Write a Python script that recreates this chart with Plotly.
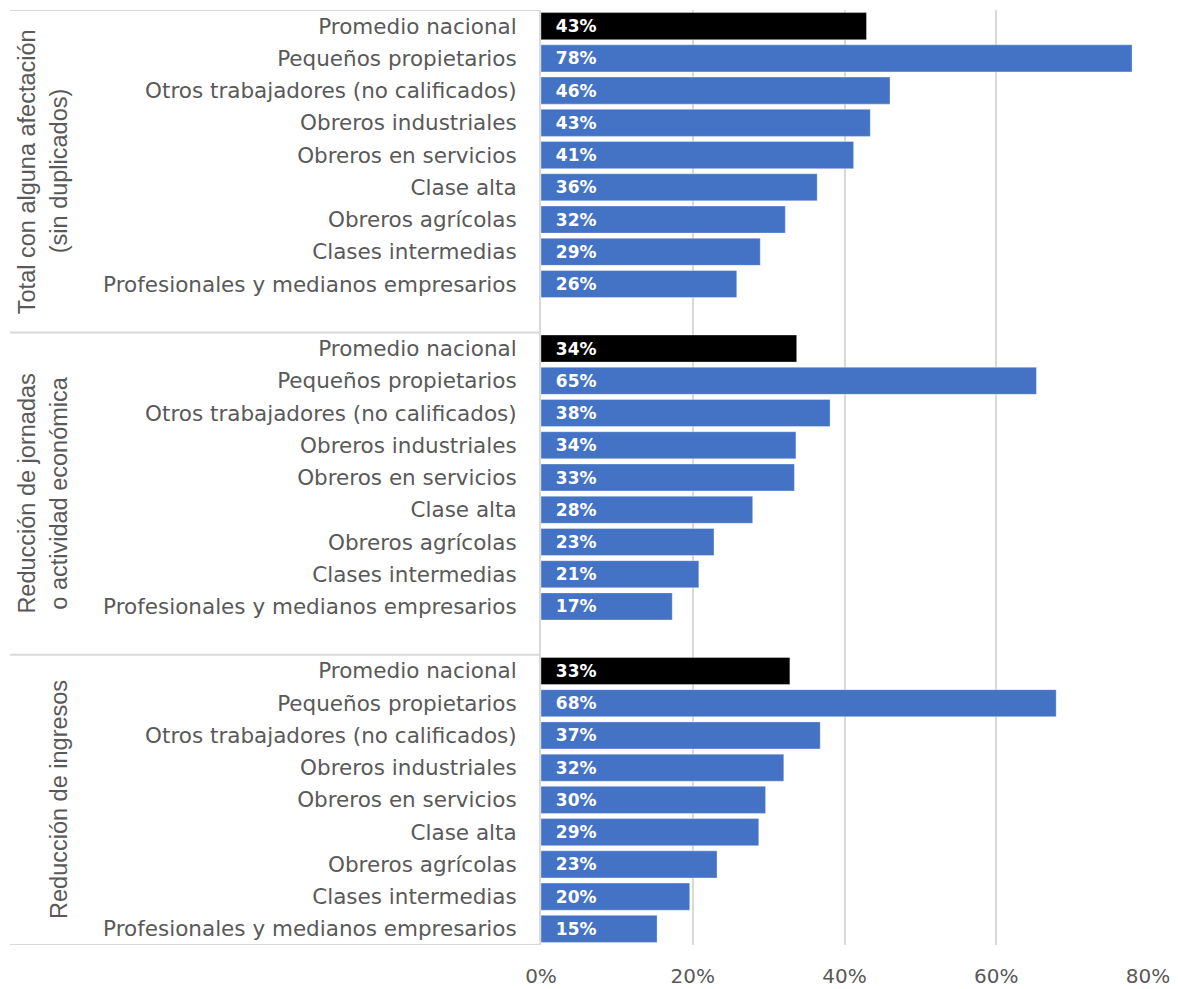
import plotly.graph_objects as go

# categorias (mismo orden en los tres bloques)
clases = ["Promedio nacional", "Pequeños propietarios", "Otros trabajadores (no calificados)",
          "Obreros industriales", "Obreros en servicios", "Clase alta", "Obreros agrícolas",
          "Clases intermedias", "Profesionales y medianos empresarios"]

grupos = [["Total con alguna afectación", "(sin duplicados)"],
          ["Reducción de jornadas", "o actividad económica"],
          ["", "Reducción de ingresos"]]

# porcentajes por bloque
total_afectacion = [42.9, 77.9, 46.0, 43.4, 41.2, 36.4, 32.2, 28.9, 25.8]
reduccion_jornadas = [33.7, 65.3, 38.1, 33.6, 33.4, 27.9, 22.8, 20.8, 17.3]
reduccion_ingresos = [32.8, 67.9, 36.8, 32.0, 29.6, 28.7, 23.2, 19.6, 15.3]

x_ticks = [0, 20, 40, 60, 80]

series = [total_afectacion, reduccion_jornadas, reduccion_ingresos]

# cada bloque ocupa 10 filas (la ultima vacia), el ultimo 9
pos, vals, names, colors = [], [], [], []
for g, s in enumerate(series):
    for r, v in enumerate(s):
        pos.append(g * 10 + r)
        vals.append(v)
        names.append(clases[r])
        colors.append("#000000" if r == 0 else "#4472C4")

gris = "#595959"
linea = "#d9d9d9"
fuente = "DejaVu Sans"

fig = go.Figure(go.Bar(
    x=vals, y=pos, orientation="h",
    marker=dict(color=colors, line=dict(color="rgba(255,255,255,0.35)", width=1)),
    width=0.84,
    texttemplate="\u00a0\u00a0%{x:.0f}%",
    textposition="inside", insidetextanchor="start", textangle=0,
    insidetextfont=dict(color="white", size=17, family="DejaVu Sans", weight="bold"),
    hoverinfo="skip",
))

fig.update_xaxes(
    range=[0, 80], tickvals=x_ticks, ticktext=[f"{t}%" for t in x_ticks],
    showgrid=True, gridcolor=linea, gridwidth=2, zeroline=False, showline=False,
    ticks="outside", ticklen=13, tickcolor="rgba(0,0,0,0)", automargin=False,
    tickfont=dict(size=20, color=gris, family=fuente),
)
fig.update_yaxes(
    range=[28.5, -0.5], tickvals=pos, ticktext=names,
    showgrid=False, zeroline=False, showline=True, linecolor=linea, linewidth=2,
    ticks="outside", ticklen=18, tickcolor="rgba(0,0,0,0)", automargin=False,
    tickfont=dict(size=21.5, color=gris, family=fuente),
)

# separadores de bloques en el eje de categorias
for yb in [-0.5, 9.5, 19.5, 28.5]:
    fig.add_shape(type="line", xref="paper", yref="y", x0=-0.875, x1=0, y0=yb, y1=yb,
                  line=dict(color=linea, width=2))

centros = [4.5, 14.5, 24]
for g, (l1, l2) in enumerate(grupos):
    for k, txt in enumerate([l1, l2]):
        if not txt:
            continue
        fig.add_annotation(text=txt, xref="paper", yref="y",
                           x=[-0.8468, -0.794][k], y=centros[g], textangle=-90,
                           showarrow=False, xanchor="center", yanchor="middle",
                           font=dict(size=23.5, color=gris, family="Liberation Sans"))

# la pagina tiene 8px de margen en el body
fig.update_layout(
    width=1170, height=981,
    margin=dict(l=533, r=30, t=2, b=44),
    plot_bgcolor="white", paper_bgcolor="white",
    showlegend=False,
)

fig.write_html("out.html")
